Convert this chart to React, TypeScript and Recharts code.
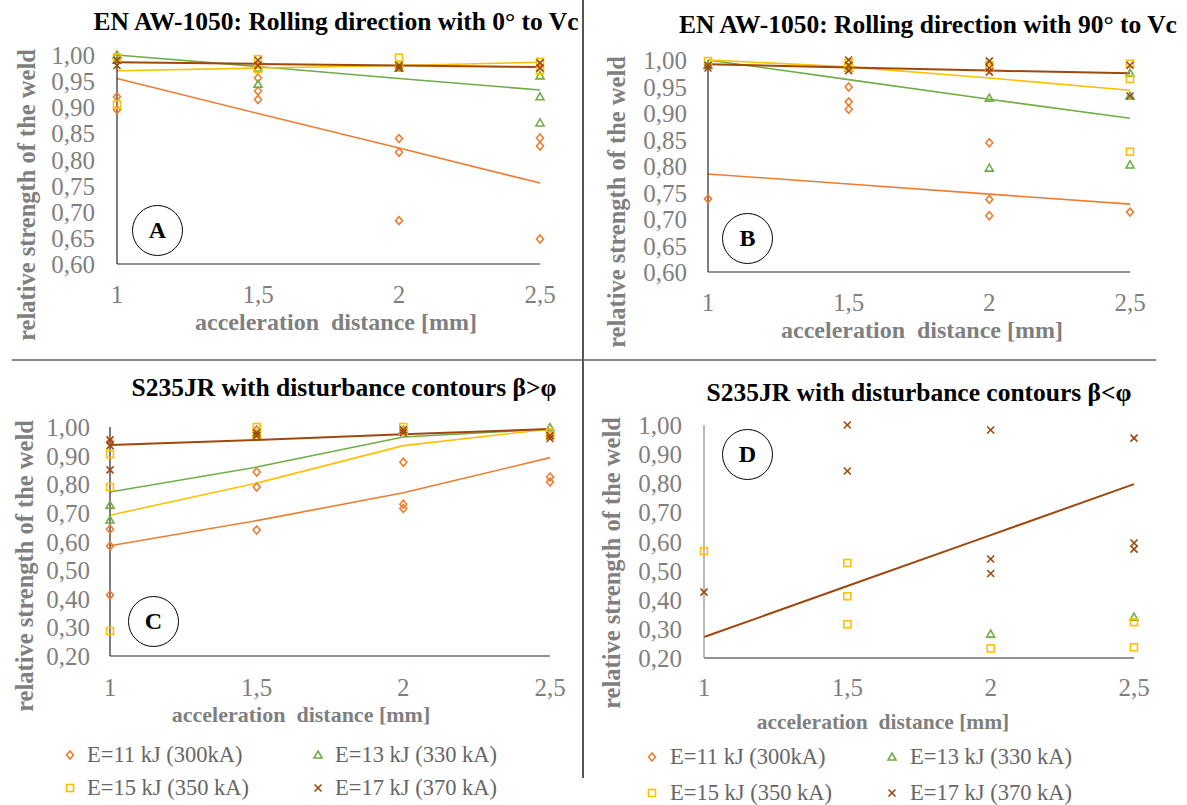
import React from "react";
import { ComposedChart, Scatter, Line, XAxis, YAxis } from "recharts";

const ORANGE = "#ED7D31";
const GREEN = "#70AD47";
const GOLD = "#FFC000";
const BROWN = "#9E480E";
const GREY = "#7F7F7F";
const FONT = '"Liberation Serif", "Times New Roman", serif';

const X_TICKS = [1, 1.5, 2, 2.5];
const TREND_X = [1, 1.5, 2, 2.5];
const Y_TICKS_AL = [0.6, 0.65, 0.7, 0.75, 0.8, 0.85, 0.9, 0.95, 1.0];
const Y_TICKS_ST = [0.2, 0.3, 0.4, 0.5, 0.6, 0.7, 0.8, 0.9, 1.0];
const LEGEND = ["E=11 kJ (300kA)", "E=13 kJ (330 kA)", "E=15 kJ (350 kA)", "E=17 kJ (370 kA)"];

// A: EN AW-1050, 0° to Vc
const A11_X = [1, 1, 1.5, 1.5, 1.5, 2, 2, 2, 2.5, 2.5, 2.5];
const A11_Y = [0.92, 0.895, 0.956, 0.931, 0.915, 0.84, 0.814, 0.683, 0.841, 0.826, 0.648];
const A13_X = [1, 1, 1.5, 1.5, 2, 2.5, 2.5, 2.5];
const A13_Y = [1.0, 0.99, 0.975, 0.944, 0.975, 0.96, 0.92, 0.87];
const A15_X = [1, 1, 1.5, 1.5, 2, 2, 2.5, 2.5];
const A15_Y = [0.995, 0.905, 0.992, 0.973, 0.995, 0.98, 0.987, 0.97];
const A17_X = [1, 1, 1.5, 1.5, 2, 2, 2.5, 2.5];
const A17_Y = [0.99, 0.98, 0.99, 0.98, 0.98, 0.975, 0.985, 0.975];
const A11_T = [0.955, 0.888, 0.822, 0.755];
const A13_T = [1.0, 0.978, 0.955, 0.933];
const A15_T = [0.97, 0.975, 0.98, 0.986];
const A17_T = [0.986, 0.983, 0.98, 0.977];

// B: EN AW-1050, 90° to Vc
const B11_X = [1, 1.5, 1.5, 1.5, 2, 2, 2, 2.5];
const B11_Y = [0.738, 0.949, 0.921, 0.907, 0.844, 0.737, 0.706, 0.713];
const B13_X = [1, 1.5, 2, 2, 2.5, 2.5, 2.5];
const B13_Y = [0.99, 0.985, 0.928, 0.796, 0.975, 0.932, 0.802];
const B15_X = [1, 1.5, 1.5, 2, 2, 2.5, 2.5, 2.5];
const B15_Y = [0.998, 0.995, 0.985, 0.99, 0.985, 0.993, 0.964, 0.827];
const B17_X = [1, 1, 1.5, 1.5, 1.5, 2, 2, 2, 2.5, 2.5];
const B17_Y = [0.99, 0.985, 1.0, 0.99, 0.98, 0.998, 0.985, 0.977, 0.99, 0.932];
const B11_T = [0.785, 0.766, 0.747, 0.728];
const B13_T = [1.0, 0.963, 0.926, 0.89];
const B15_T = [1.0, 0.987, 0.966, 0.943];
const B17_T = [0.992, 0.986, 0.98, 0.975];

// C: S235JR, β>φ
const C11_X = [1, 1, 1, 1, 1.5, 1.5, 1.5, 1.5, 2, 2, 2, 2.5, 2.5, 2.5];
const C11_Y = [0.948, 0.643, 0.584, 0.413, 0.99, 0.843, 0.79, 0.64, 0.877, 0.73, 0.715, 0.975, 0.825, 0.808];
const C13_X = [1, 1, 1.5, 2, 2.5];
const C13_Y = [0.727, 0.675, 0.975, 0.99, 0.998];
const C15_X = [1, 1, 1, 1.5, 1.5, 2, 2, 2.5, 2.5];
const C15_Y = [0.905, 0.79, 0.287, 1.0, 0.975, 1.0, 0.985, 0.98, 0.97];
const C17_X = [1, 1, 1, 1.5, 1.5, 2, 2, 2.5, 2.5];
const C17_Y = [0.955, 0.935, 0.85, 0.98, 0.97, 0.99, 0.98, 0.97, 0.96];
const C11_T = [0.585, 0.673, 0.77, 0.893];
const C13_T = [0.773, 0.86, 0.965, 0.993];
const C15_T = [0.692, 0.804, 0.935, 0.993];
const C17_T = [0.937, 0.955, 0.975, 0.993];

// D: S235JR, β<φ
const D13_X = [2, 2.5];
const D13_Y = [0.282, 0.34];
const D15_X = [1, 1.5, 1.5, 1.5, 2, 2.5, 2.5];
const D15_Y = [0.567, 0.526, 0.412, 0.316, 0.233, 0.323, 0.237];
const D17_X = [1, 1.5, 1.5, 2, 2, 2, 2.5, 2.5, 2.5];
const D17_Y = [0.426, 1.0, 0.842, 0.983, 0.54, 0.49, 0.955, 0.595, 0.574];
const D17_T = [0.272, 0.447, 0.622, 0.797];

const pts = (xs: number[], ys: number[]) => xs.map((x, i) => ({ x, y: ys[i] }));
const fmtY = (v: number) => v.toFixed(2).replace(".", ",");
const fmtX = (v: number) => String(v).replace(".", ",");

type Kind = "diamond" | "triangle" | "square" | "cross";

function Mark({ kind, color, cx, cy }: { kind: Kind; color: string; cx: number; cy: number }) {
  const sw = 1.6;
  if (kind === "diamond")
    return <path d={`M${cx},${cy - 4} L${cx + 3.5},${cy} L${cx},${cy + 4} L${cx - 3.5},${cy} Z`} fill="none" stroke={color} strokeWidth={sw} />;
  if (kind === "triangle")
    return <path d={`M${cx},${cy - 4} L${cx + 4},${cy + 3} L${cx - 4},${cy + 3} Z`} fill="none" stroke={color} strokeWidth={sw} />;
  if (kind === "square")
    return <rect x={cx - 3.5} y={cy - 3.5} width={7} height={7} fill="none" stroke={color} strokeWidth={sw} />;
  return (
    <g stroke={color} strokeWidth={sw}>
      <line x1={cx - 3.5} y1={cy - 3.5} x2={cx + 3.5} y2={cy + 3.5} />
      <line x1={cx - 3.5} y1={cy + 3.5} x2={cx + 3.5} y2={cy - 3.5} />
    </g>
  );
}

const XTick = (p: any) => (
  <text
    x={p.x}
    y={p.y}
    dy={18}
    textAnchor="middle"
    fill={GREY}
    fontSize="25px"
    fontFamily="Liberation Serif"
    style={{ fontFamily: FONT, fontSize: "25px" }}
  >
    {fmtX(p.payload.value)}
  </text>
);
const YTick = (p: any) => (
  <text
    x={p.x}
    y={p.y}
    dy={9}
    textAnchor="end"
    fill={GREY}
    fontSize="25px"
    fontFamily="Liberation Serif"
    style={{ fontFamily: FONT, fontSize: "25px" }}
  >
    {fmtY(p.payload.value)}
  </text>
);

type Series = { xs: number[]; ys: number[]; kind: Kind; color: string; trend?: number[] };

function Panel({
  box,
  plot,
  yTicks,
  yMin,
  series,
  xMargin,
  yMargin,
  yAxisColor,
}: {
  box: { left: number; top: number; width: number; height: number };
  plot: { x0: number; x1: number; y0: number; y1: number };
  yTicks: number[];
  yMin: number;
  series: Series[];
  xMargin: number;
  yMargin: number;
  yAxisColor: string;
}) {
  const YW = 90;
  const XH = 40;
  const margin = {
    top: plot.y0 - box.top,
    left: plot.x0 - box.left - YW,
    right: box.left + box.width - plot.x1,
    bottom: box.top + box.height - plot.y1 - XH,
  };
  return (
    <div style={{ position: "absolute", left: box.left, top: box.top, fontFamily: FONT }}>
      <ComposedChart width={box.width} height={box.height} margin={margin}>
        <XAxis
          type="number"
          dataKey="x"
          domain={[1, 2.5]}
          ticks={X_TICKS}
          interval={0}
          tickSize={0}
          tickMargin={xMargin}
          height={XH}
          axisLine={{ stroke: "#262626", strokeWidth: 1.2 }}
          tick={XTick}
        />
        <YAxis
          type="number"
          dataKey="y"
          domain={[yMin, 1]}
          ticks={yTicks}
          interval={0}
          width={YW}
          tickSize={0}
          tickMargin={yMargin}
          axisLine={{ stroke: yAxisColor, strokeWidth: 1.2 }}
          tick={YTick}
        />
        {series.map((s, i) => (
          <Scatter
            key={"s" + i}
            data={pts(s.xs, s.ys)}
            isAnimationActive={false}
            shape={(p: any) => <Mark kind={s.kind} color={s.color} cx={p.cx} cy={p.cy} />}
          />
        ))}
        {series
          .filter((s) => s.trend)
          .map((s, i) => (
            <Line
              key={"t" + i}
              data={pts(TREND_X, s.trend as number[])}
              dataKey="y"
              stroke={s.color}
              strokeWidth={s.color === BROWN ? 2 : 1.6}
              dot={false}
              activeDot={false}
              isAnimationActive={false}
            />
          ))}
      </ComposedChart>
    </div>
  );
}

const txt = (x: number, y: number, text: string, size: number, color: string, bold: boolean, rotate = false) => (
  <div
    key={text + x + y}
    style={{
      position: "absolute",
      left: x,
      top: y,
      transform: `translate(-50%, -50%)${rotate ? " rotate(-90deg)" : ""}`,
      whiteSpace: "pre",
      fontFamily: FONT,
      fontSize: size,
      fontWeight: bold ? 700 : 400,
      color,
      lineHeight: 1,
    }}
  >
    {text}
  </div>
);

const circle = (x: number, y: number, letter: string) => (
  <div
    key={letter}
    style={{
      position: "absolute",
      left: x - 25,
      top: y - 25,
      width: 49,
      height: 49,
      borderRadius: "50%",
      border: "1px solid #000",
      display: "flex",
      alignItems: "center",
      justifyContent: "center",
      fontFamily: FONT,
      fontWeight: 700,
      fontSize: 24,
    }}
  >
    {letter}
  </div>
);

const KINDS: Kind[] = ["diamond", "triangle", "square", "cross"];
const COLORS = [ORANGE, GREEN, GOLD, BROWN];

function Legend({ cols, rows, textDx }: { cols: number[]; rows: number[]; textDx: number }) {
  return (
    <>
      {LEGEND.map((label, i) => {
        const mx = cols[i % 2];
        const my = rows[Math.floor(i / 2)];
        return (
          <React.Fragment key={label}>
            <svg style={{ position: "absolute", left: mx - 6, top: my - 6 }} width={12} height={12}>
              <Mark kind={KINDS[i]} color={COLORS[i]} cx={6} cy={6} />
            </svg>
            <div
              style={{
                position: "absolute",
                left: mx + textDx,
                top: my,
                transform: "translateY(-50%)",
                fontFamily: FONT,
                fontSize: 22.5,
                color: "#666",
                whiteSpace: "pre",
                lineHeight: 1,
              }}
            >
              {label}
            </div>
          </React.Fragment>
        );
      })}
    </>
  );
}

export default function App() {
  const seriesA: Series[] = [
    { xs: A11_X, ys: A11_Y, kind: "diamond", color: ORANGE, trend: A11_T },
    { xs: A13_X, ys: A13_Y, kind: "triangle", color: GREEN, trend: A13_T },
    { xs: A15_X, ys: A15_Y, kind: "square", color: GOLD, trend: A15_T },
    { xs: A17_X, ys: A17_Y, kind: "cross", color: BROWN, trend: A17_T },
  ];
  const seriesB: Series[] = [
    { xs: B11_X, ys: B11_Y, kind: "diamond", color: ORANGE, trend: B11_T },
    { xs: B13_X, ys: B13_Y, kind: "triangle", color: GREEN, trend: B13_T },
    { xs: B15_X, ys: B15_Y, kind: "square", color: GOLD, trend: B15_T },
    { xs: B17_X, ys: B17_Y, kind: "cross", color: BROWN, trend: B17_T },
  ];
  const seriesC: Series[] = [
    { xs: C11_X, ys: C11_Y, kind: "diamond", color: ORANGE, trend: C11_T },
    { xs: C13_X, ys: C13_Y, kind: "triangle", color: GREEN, trend: C13_T },
    { xs: C15_X, ys: C15_Y, kind: "square", color: GOLD, trend: C15_T },
    { xs: C17_X, ys: C17_Y, kind: "cross", color: BROWN, trend: C17_T },
  ];
  const seriesD: Series[] = [
    { xs: D13_X, ys: D13_Y, kind: "triangle", color: GREEN },
    { xs: D15_X, ys: D15_Y, kind: "square", color: GOLD },
    { xs: D17_X, ys: D17_Y, kind: "cross", color: BROWN, trend: D17_T },
  ];

  return (
    <div style={{ position: "absolute", left: 0, top: 0, width: 1187, height: 805, background: "#fff", overflow: "hidden" }}>
      <Panel
        box={{ left: 0, top: 0, width: 583, height: 360 }}
        plot={{ x0: 117, x1: 540, y0: 55, y1: 264 }}
        yTicks={Y_TICKS_AL}
        yMin={0.6}
        series={seriesA}
        xMargin={21}
        yMargin={22}
        yAxisColor="#262626"
      />
      <Panel
        box={{ left: 583, top: 0, width: 604, height: 360 }}
        plot={{ x0: 708, x1: 1130, y0: 60, y1: 272 }}
        yTicks={Y_TICKS_AL}
        yMin={0.6}
        series={seriesB}
        xMargin={21}
        yMargin={21}
        yAxisColor="#262626"
      />
      <Panel
        box={{ left: 0, top: 360, width: 583, height: 445 }}
        plot={{ x0: 110, x1: 550, y0: 427, y1: 656 }}
        yTicks={Y_TICKS_ST}
        yMin={0.2}
        series={seriesC}
        xMargin={22}
        yMargin={20}
        yAxisColor="#262626"
      />
      <Panel
        box={{ left: 583, top: 360, width: 604, height: 445 }}
        plot={{ x0: 704, x1: 1134, y0: 425, y1: 658 }}
        yTicks={Y_TICKS_ST}
        yMin={0.2}
        series={seriesD}
        xMargin={20}
        yMargin={22}
        yAxisColor="#8c8c8c"
      />

      {/* dividers */}
      <div style={{ position: "absolute", left: 12, top: 359, width: 1144, height: 2, background: "#8a8a8a" }} />
      <div style={{ position: "absolute", left: 582, top: 0, width: 1.5, height: 778, background: "#555" }} />

      {/* titles */}
      {txt(336, 22, "EN AW-1050: Rolling direction with 0° to Vc", 25.5, "#000", true)}
      {txt(928, 25, "EN AW-1050: Rolling direction with 90° to Vc", 25.5, "#000", true)}
      {txt(344, 388, "S235JR with disturbance contours β>φ", 25.5, "#000", true)}
      {txt(919, 393, "S235JR with disturbance contours β<φ", 25.5, "#000", true)}

      {/* axis titles */}
      {txt(27, 195, "relative strength of the weld", 24.5, GREY, true, true)}
      {txt(617, 202, "relative strength of the weld", 24.5, GREY, true, true)}
      {txt(25, 566, "relative strength of the weld", 24.5, GREY, true, true)}
      {txt(612, 563, "relative strength of the weld", 24.5, GREY, true, true)}
      {txt(336, 322, "acceleration  distance [mm]", 24, GREY, true)}
      {txt(922, 330, "acceleration  distance [mm]", 24, GREY, true)}
      {txt(301, 715, "acceleration  distance [mm]", 22, GREY, true)}
      {txt(883, 723, "acceleration  distance [mm]", 21.5, GREY, true)}

      {circle(157, 230, "A")}
      {circle(747, 238, "B")}
      {circle(153, 621, "C")}
      {circle(747, 454, "D")}

      <Legend cols={[70, 318]} rows={[755, 788]} textDx={17} />
      <Legend cols={[652, 892]} rows={[757, 793]} textDx={18} />
    </div>
  );
}
